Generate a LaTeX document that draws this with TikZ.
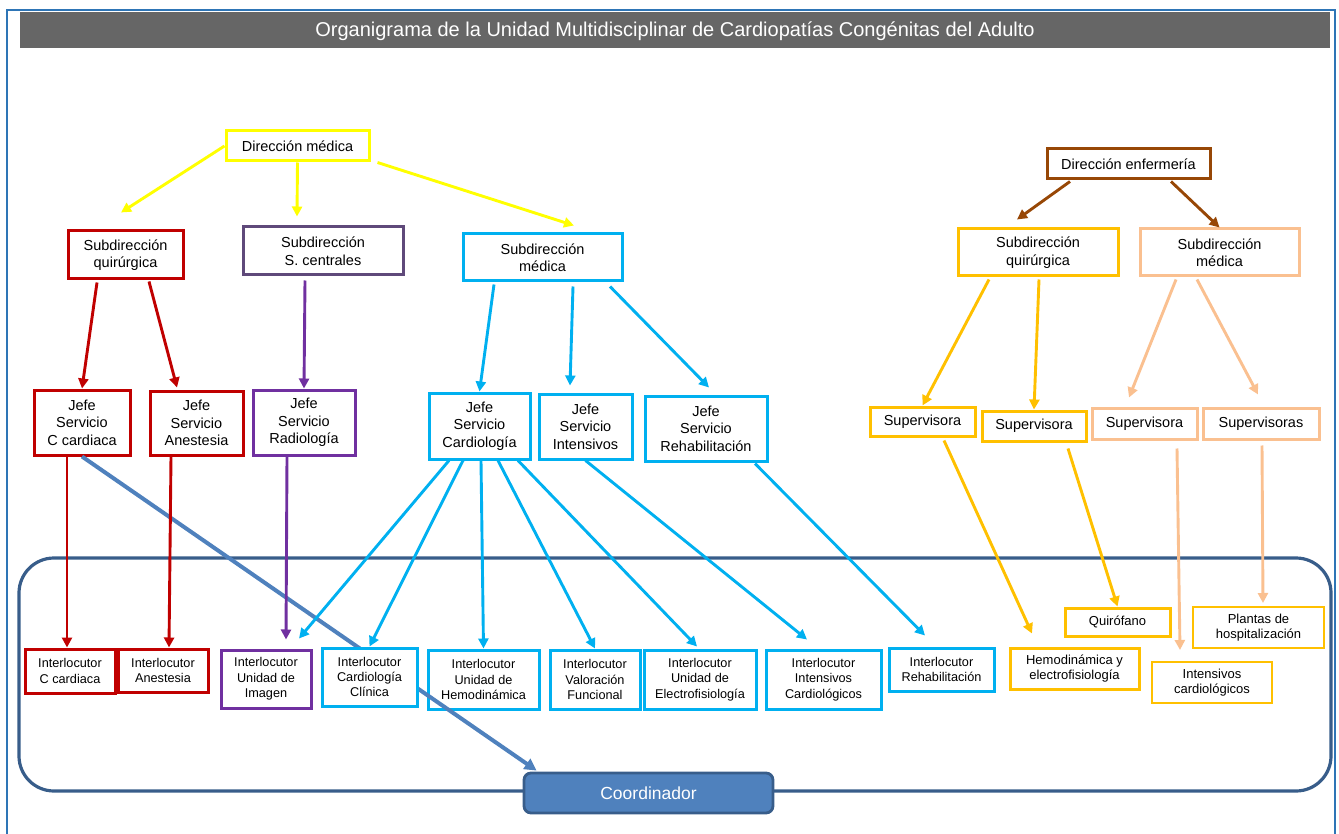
\documentclass[tikz,border=0pt]{standalone}
\usepackage{fontspec}
\setmainfont{Liberation Sans}
\usepackage{tikz}
\usetikzlibrary{arrows.meta, positioning, calc}
\definecolor{framecolor}{RGB}{46,117,182}
\definecolor{titlecolor}{RGB}{102,102,102}
\definecolor{dircolor}{RGB}{255,255,0}
\definecolor{surgcolor}{RGB}{192,0,0}
\definecolor{centcolor}{RGB}{95,73,122}
\definecolor{radcolor}{RGB}{112,48,160}
\definecolor{medcolor}{RGB}{0,176,240}
\definecolor{nursecolor}{RGB}{151,71,6}
\definecolor{goldcolor}{RGB}{255,192,0}
\definecolor{peachcolor}{RGB}{250,192,144}
\definecolor{unitcolor}{RGB}{56,93,138}
\definecolor{coordcolor}{RGB}{79,129,189}

\begin{document}
\begin{tikzpicture}[
    x=1pt, y=-1pt,
    box/.style={draw, line width=3pt, fill=white, align=center, inner sep=0pt, font=\fontsize{14.5}{17.5}\selectfont},
    ibox/.style={box, font=\fontsize{12.7}{15.3}\selectfont},
    sbox/.style={box, font=\fontsize{13}{15.7}\selectfont},
    arrow/.style={-{Triangle[length=10pt,width=10pt]}, line width=2.9pt}
]
    \useasboundingbox (0,0) rectangle (1339,834);

    % Frame and title
    \draw[framecolor, line width=2pt] (7,840) -- (7,10) -- (1335,10) -- (1335,840);
    \fill[titlecolor] (20,12) rectangle (1330,48);
    \node[text=white, font=\fontsize{20}{23}\selectfont] (title) at (675,31) {Organigrama de la Unidad Multidisciplinar de Cardiopatías Congénitas del Adulto};

    % Unit container
    \draw[unitcolor, line width=3.2pt, rounded corners=35pt] (19,558) rectangle (1331,791);
    \node[draw=unitcolor, line width=2.8pt, fill=coordcolor, rounded corners=7pt, text=white, minimum width=249pt, minimum height=40pt, font=\fontsize{17.5}{20}\selectfont] (coord) at (648.5,793) {Coordinador};

    % Medical direction
    \node[box, draw=dircolor, minimum width=143pt, minimum height=30pt] (dmed) at (297.5,146) {Dirección médica};
    \node[box, draw=surgcolor, minimum width=115pt, minimum height=48pt] (sq) at (125.5,255) {Subdirección\\quirúrgica};
    \node[box, draw=centcolor, minimum width=160pt, minimum height=48pt] (sc) at (323,251) {Subdirección\\S. centrales};
    \node[box, draw=medcolor, minimum width=159pt, minimum height=47pt] (sm) at (542.5,257.5) {Subdirección\\médica};

    \draw[arrow, dircolor] (dmed.west) -- ($(sq.north)+(-4.5,-17)$);
    \draw[arrow, dircolor] (dmed.south) -- ($(sc.north)+(-26,-9)$);
    \draw[arrow, dircolor] ($(dmed.south east)+(7,0)$) -- ($(sm.north)+(31.5,-7)$);

    % Heads of service
    \node[box, draw=surgcolor, minimum width=96pt, minimum height=65pt] (jcc) at (82,422.5) {Jefe\\Servicio\\C cardiaca};
    \node[box, draw=surgcolor, minimum width=93pt, minimum height=64pt] (jan) at (196.5,423) {Jefe\\Servicio\\Anestesia};
    \node[box, draw=radcolor, minimum width=102pt, minimum height=65pt] (jrad) at (304,422.5) {Jefe\\Servicio\\Radiología};
    \node[box, draw=medcolor, minimum width=101pt, minimum height=66pt] (jcar) at (479.5,426) {Jefe\\Servicio\\Cardiología};
    \node[box, draw=medcolor, minimum width=93pt, minimum height=65pt] (jint) at (585.5,426.5) {Jefe\\Servicio\\Intensivos};
    \node[box, draw=medcolor, minimum width=122pt, minimum height=65pt] (jreh) at (706,428.5) {Jefe\\Servicio\\Rehabilitación};

    \draw[arrow, surgcolor] ($(sq.south)+(-28.5,2)$) -- (jcc.north);
    \draw[arrow, surgcolor] ($(sq.south)+(23.5,1)$) -- ($(jan.north)+(-19.5,-2)$);
    \draw[arrow, radcolor] ($(sc.south)+(-18,4)$) -- (jrad.north);
    \draw[arrow, medcolor] ($(sm.south)+(-48.5,2)$) -- (jcar.north);
    \draw[arrow, medcolor] ($(sm.south)+(30.5,4)$) -- ($(jint.north)+(-15.5,-7)$);
    \draw[arrow, medcolor] ($(sm.south)+(67.5,4)$) -- ($(jreh.north)+(3,-7)$);

    % Nursing direction
    \node[box, draw=nursecolor, minimum width=163pt, minimum height=30pt] (denf) at (1128.5,164) {Dirección enfermería};
    \node[box, draw=goldcolor, minimum width=160pt, minimum height=47pt] (esq) at (1038,252.5) {Subdirección\\quirúrgica};
    \node[box, draw=peachcolor, minimum width=159pt, minimum height=47pt] (esm) at (1219.5,252.5) {Subdirección\\médica};

    \draw[arrow, nursecolor] ($(denf.south)+(-58.5,1)$) -- ($(esq.north)+(-21,-8)$);
    \draw[arrow, nursecolor] ($(denf.south)+(42.5,1)$) -- (esm.north);

    % Supervisors
    \node[box, draw=goldcolor, minimum width=105pt, minimum height=29pt] (sup1) at (922.5,421.5) {Supervisora};
    \node[box, draw=goldcolor, minimum width=104pt, minimum height=30pt] (sup2) at (1034,426) {Supervisora};
    \node[box, draw=peachcolor, minimum width=105pt, minimum height=31pt] (sup3) at (1144.5,423.5) {Supervisora};
    \node[box, draw=peachcolor, minimum width=116pt, minimum height=31pt] (sup4) at (1261,423.5) {Supervisoras};

    \draw[arrow, goldcolor] ($(esq.south)+(-49,2)$) -- (sup1.north);
    \draw[arrow, goldcolor] ($(esq.south)+(1,2)$) -- (sup2.north);
    \draw[arrow, peachcolor] ($(esm.south)+(-43.5,2)$) -- ($(sup3.north)+(-15.5,-9)$);
    \draw[arrow, peachcolor] ($(esm.south)+(-22.5,2)$) -- ($(sup4.north)+(-3,-12)$);

    % Interlocutors
    \node[ibox, draw=surgcolor, minimum width=90pt, minimum height=44pt] (icc) at (70,671) {Interlocutor\\C cardiaca};
    \node[ibox, draw=surgcolor, minimum width=90pt, minimum height=43pt] (ian) at (163,670.5) {Interlocutor\\Anestesia};
    \node[ibox, draw=radcolor, minimum width=90pt, minimum height=58pt] (iim) at (266,679) {Interlocutor\\Unidad de\\Imagen};
    \node[ibox, draw=medcolor, minimum width=111pt, minimum height=59pt] (ihe) at (483.5,679.5) {Interlocutor\\Unidad de\\Hemodinámica};

    % Coordinator link
    \draw[-{Triangle[length=12pt,width=12pt]}, coordcolor, line width=4pt] (jcc.south) -- ($(coord.north west)+(14,-1)$);

    \node[ibox, draw=medcolor, minimum width=95pt, minimum height=58pt] (icl) at (369.5,677) {Interlocutor\\Cardiología\\Clínica};
    \node[ibox, draw=medcolor, minimum width=90pt, minimum height=59pt] (iva) at (595,679.5) {Interlocutor\\Valoración\\Funcional};
    \node[ibox, draw=medcolor, minimum width=112pt, minimum height=59pt] (iel) at (700,679.5) {Interlocutor\\Unidad de\\Electrofisiología};
    \node[ibox, draw=medcolor, minimum width=115pt, minimum height=59pt] (iic) at (823.5,679.5) {Interlocutor\\Intensivos\\Cardiológicos};
    \node[ibox, draw=medcolor, minimum width=105pt, minimum height=43pt] (ire) at (941.5,669.5) {Interlocutor\\Rehabilitación};

    \draw[arrow, surgcolor] ($(jcc.south)+(-15,0)$) -- ($(icc.north)+(-3,0)$);
    \draw[arrow, surgcolor] ($(jan.south)+(-25.5,0)$) -- ($(ian.north)+(6,0)$);
    \draw[arrow, radcolor] ($(jrad.south)+(-17,0)$) -- ($(iim.north)+(20,-9)$);
    \draw[arrow, medcolor] ($(jcar.south)+(-30.5,0)$) -- ($(iim.north)+(33,-10)$);
    \draw[arrow, medcolor] ($(jcar.south)+(-16.5,0)$) -- (icl.north);
    \draw[arrow, medcolor] ($(jcar.south)+(1.5,0)$) -- (ihe.north);
    \draw[arrow, medcolor] ($(jcar.south)+(18.5,0)$) -- (iva.north);
    \draw[arrow, medcolor] ($(jcar.south)+(38.5,0)$) -- ($(iel.north)+(-3,-2)$);
    \draw[arrow, medcolor] (jint.south) -- ($(iic.north)+(-16.5,-9)$);
    \draw[arrow, medcolor] ($(jreh.south)+(49,1)$) -- ($(ire.north)+(-16.5,-11)$);

    % Nursing units
    \node[sbox, draw=goldcolor, minimum width=105pt, minimum height=28pt] (quir) at (1117.5,622) {Quirófano};
    \node[sbox, draw=goldcolor, minimum width=129pt, minimum height=41pt] (hye) at (1074.5,668.5) {Hemodinámica y\\electrofisiología};
    \node[sbox, draw=goldcolor, line width=2pt, minimum width=120pt, minimum height=41pt] (icard) at (1212,682.5) {Intensivos\\cardiológicos};
    \node[sbox, draw=goldcolor, line width=2pt, minimum width=131pt, minimum height=41pt] (plan) at (1258.5,627.5) {Plantas de\\hospitalización};

    \draw[arrow, goldcolor] ($(sup1.south)+(21.5,3)$) -- ($(hye.north)+(-42.5,-13)$);
    \draw[arrow, goldcolor] ($(sup2.south)+(34,6)$) -- (quir.north);
    \draw[arrow, peachcolor] ($(sup3.south)+(32.5,8)$) -- ($(icard.north)+(-32,-11)$);
    \draw[arrow, peachcolor] ($(sup4.south)+(1,5)$) -- ($(plan.north)+(4.5,-3)$);
\end{tikzpicture}
\end{document}
